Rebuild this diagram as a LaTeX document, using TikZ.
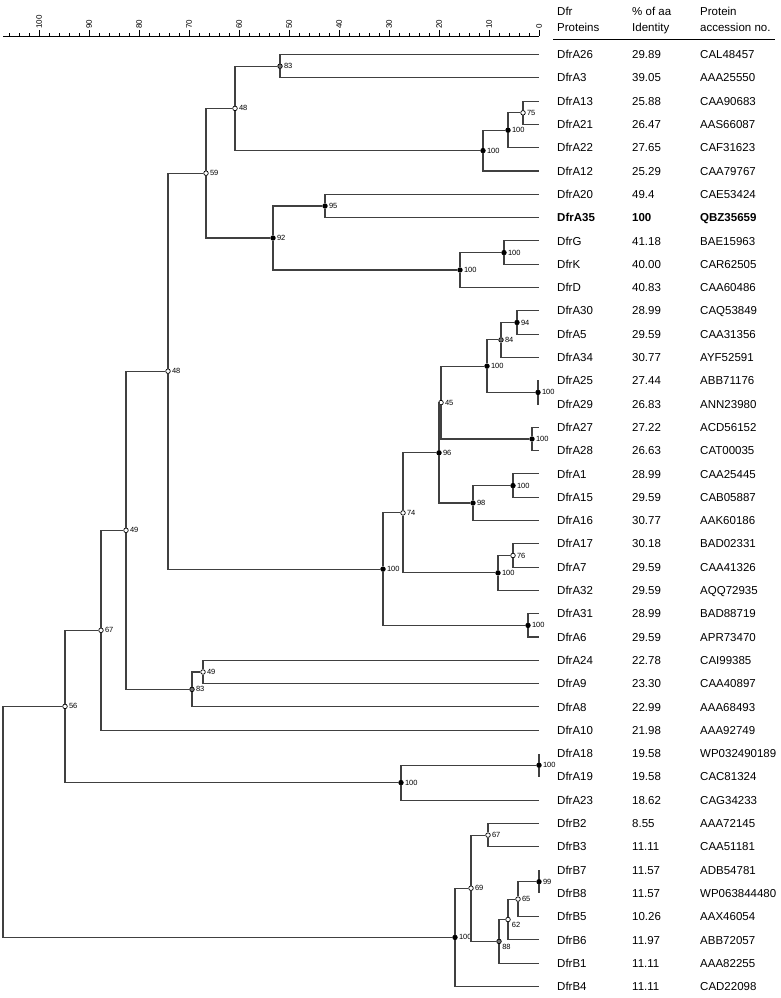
\documentclass[tikz,border=0pt]{standalone}
\usepackage{fontspec}
\setmainfont{Liberation Sans}
\tikzset{
  br/.style={line width=1.1pt, draw=black!75},
  nd/.style={circle, draw=black, line width=0.7pt, inner sep=0pt, minimum size=4.6pt, fill=white},
  ndf/.style={nd, fill=black},
  ndg/.style={nd, fill=black!55},
  bs/.style={font=\fontsize{7.5}{8}\selectfont, inner sep=1.2pt},
  cell/.style={anchor=base west, inner sep=0pt, font=\fontsize{11.5}{14}\selectfont},
}
\begin{document}
\begin{tikzpicture}[x=1pt,y=-1pt]
\useasboundingbox (0,0) rectangle (780,998);
% scale bar
\draw[line width=0.6pt] (3,36) -- (539,36);
\foreach \d in {0,2,...,106}
  \draw[line width=0.6pt] (539-5*\d,36) -- ++(0,-3);
\foreach \d in {0,10,...,100}
  \draw[line width=0.6pt] (539-5*\d,36) -- ++(0,-6)
    node[anchor=west, rotate=90, inner sep=1pt, font=\fontsize{8}{9}\selectfont] (t\d) {\d};
% table head
\node[cell] (h1) at (557,16) {Dfr};
\node[cell] (h2) at (557,32) {Proteins};
\node[cell] (h3) at (632,16) {\% of aa};
\node[cell] (h4) at (632,32) {Identity};
\node[cell] (h5) at (700,16) {Protein};
\node[cell] (h6) at (700,32) {accession no.};
\draw[line width=0.8pt] (553,39) -- (775,39);
% leaves and table rows
\foreach \i/\nm/\pc/\ac in {1/DfrA26/29.89/CAL48457, 2/DfrA3/39.05/AAA25550,
  3/DfrA13/25.88/CAA90683, 4/DfrA21/26.47/AAS66087, 5/DfrA22/27.65/CAF31623,
  6/DfrA12/25.29/CAA79767, 7/DfrA20/49.4/CAE53424,
  8/\textbf{DfrA35}/\textbf{100}/\textbf{QBZ35659}, 9/DfrG/41.18/BAE15963,
  10/DfrK/40.00/CAR62505, 11/DfrD/40.83/CAA60486, 12/DfrA30/28.99/CAQ53849,
  13/DfrA5/29.59/CAA31356, 14/DfrA34/30.77/AYF52591, 15/DfrA25/27.44/ABB71176,
  16/DfrA29/26.83/ANN23980, 17/DfrA27/27.22/ACD56152, 18/DfrA28/26.63/CAT00035,
  19/DfrA1/28.99/CAA25445, 20/DfrA15/29.59/CAB05887, 21/DfrA16/30.77/AAK60186,
  22/DfrA17/30.18/BAD02331, 23/DfrA7/29.59/CAA41326, 24/DfrA32/29.59/AQQ72935,
  25/DfrA31/28.99/BAD88719, 26/DfrA6/29.59/APR73470, 27/DfrA24/22.78/CAI99385,
  28/DfrA9/23.30/CAA40897, 29/DfrA8/22.99/AAA68493, 30/DfrA10/21.98/AAA92749,
  31/DfrA18/19.58/WP032490189, 32/DfrA19/19.58/CAC81324, 33/DfrA23/18.62/CAG34233,
  34/DfrB2/8.55/AAA72145, 35/DfrB3/11.11/CAA51181, 36/DfrB7/11.57/ADB54781,
  37/DfrB8/11.57/WP063844480, 38/DfrB5/10.26/AAX46054, 39/DfrB6/11.97/ABB72057,
  40/DfrB1/11.11/AAA82255, 41/DfrB4/11.11/CAD22098} {
  \coordinate (l\i) at (539,{54.5+23.3*(\i-1)});
  \node[cell] (nm\i) at (557,{58.6+23.3*(\i-1)}) {\nm};
  \node[cell] (pc\i) at (632,{58.6+23.3*(\i-1)}) {\pc};
  \node[cell] (ac\i) at (700,{58.6+23.3*(\i-1)}) {\ac};
}
% inner nodes
\node[ndg, label={[bs]right:83}] (n83a) at (280,66.2) {};
\node[nd, label={[bs]right:75}] (n75) at (523,112.8) {};
\node[ndf, label={[bs]right:100}] (n100b) at (508,130.2) {};
\node[ndf, label={[bs]right:100}] (n100c) at (483,150.6) {};
\node[nd, label={[bs]right:48}] (n48a) at (235,108.4) {};
\node[ndf, label={[bs]right:95}] (n95) at (325,206.0) {};
\node[ndf, label={[bs]right:100}] (n100g) at (504,252.6) {};
\node[ndf, label={[bs]right:100}] (n100d) at (460,270.0) {};
\node[ndf, label={[bs]right:92}] (n92) at (273,238.0) {};
\node[nd, label={[bs]right:59}] (n59) at (206,173.2) {};
\node[ndf, label={[bs]right:94}] (n94) at (517,322.5) {};
\node[ndg, label={[bs]right:84}] (n84) at (501,339.9) {};
\node[ndf, label={[bs]right:100}] (n100e) at (538,392.4) {};
\node[ndf, label={[bs]right:100}] (n100f) at (487,366.1) {};
\node[ndf, label={[bs]right:100}] (n100h) at (532,439.0) {};
\node[nd, label={[bs]right:45}] (n45) at (441,402.6) {};
\node[ndf, label={[bs]right:100}] (n100i) at (513,485.6) {};
\node[ndf, label={[bs]right:98}] (n98) at (473,503.0) {};
\node[ndf, label={[bs]right:96}] (n96) at (439,452.8) {};
\node[nd, label={[bs]right:76}] (n76) at (513,555.5) {};
\node[ndf, label={[bs]right:100}] (n100j) at (498,572.9) {};
\node[nd, label={[bs]right:74}] (n74) at (403,512.9) {};
\node[ndf, label={[bs]right:100}] (n100k) at (528,625.4) {};
\node[ndf, label={[bs]right:100}] (n100l) at (383,569.1) {};
\node[nd, label={[bs]right:48}] (n48b) at (168,371.2) {};
\node[nd, label={[bs]right:49}] (n49a) at (203,672.0) {};
\node[ndg, label={[bs]right:83}] (n83b) at (192,689.4) {};
\node[nd, label={[bs]right:49}] (n49b) at (126,530.3) {};
\node[nd, label={[bs]right:67}] (n67a) at (101,630.3) {};
\node[ndf, label={[bs]right:100}] (n100m) at (539,765.2) {};
\node[ndf, label={[bs]right:100}] (n100n) at (401,782.6) {};
\node[nd, label={[bs]right:56}] (n56) at (65,706.4) {};
\node[nd, label={[bs]right:67}] (n67b) at (488,835.1) {};
\node[ndf, label={[bs]right:99}] (n99) at (539,881.7) {};
\node[nd, label={[bs]right:65}] (n65) at (518,899.1) {};
\node[nd, label={[bs]-20:62}] (n62) at (508,919.5) {};
\node[ndg, label={[bs]-45:88}] (n88) at (499,941.4) {};
\node[nd, label={[bs]right:69}] (n69) at (471,888.2) {};
\node[ndf, label={[bs]right:100}] (n100o) at (455,937.4) {};
\coordinate (root) at (3,821.9);
% branches
\foreach \p/\c in {n83a/l1, n83a/l2, n75/l3, n75/l4, n100b/n75, n100b/l5,
  n100c/n100b, n100c/l6, n48a/n83a, n48a/n100c, n95/l7, n95/l8,
  n100g/l9, n100g/l10, n100d/n100g, n100d/l11, n92/n95, n92/n100d,
  n59/n48a, n59/n92, n94/l12, n94/l13, n84/n94, n84/l14, n100e/l15, n100e/l16,
  n100f/n84, n100f/n100e, n100h/l17, n100h/l18, n45/n100f, n45/n100h,
  n100i/l19, n100i/l20, n98/n100i, n98/l21, n96/n45, n96/n98,
  n76/l22, n76/l23, n100j/n76, n100j/l24, n74/n96, n74/n100j,
  n100k/l25, n100k/l26, n100l/n74, n100l/n100k, n48b/n59, n48b/n100l,
  n49a/l27, n49a/l28, n83b/n49a, n83b/l29, n49b/n48b, n49b/n83b,
  n67a/n49b, n67a/l30, n100m/l31, n100m/l32, n100n/n100m, n100n/l33,
  n56/n67a, n56/n100n, n67b/l34, n67b/l35, n99/l36, n99/l37, n65/n99, n65/l38,
  n62/n65, n62/l39, n88/n62, n88/l40, n69/n67b, n69/n88, n100o/n69, n100o/l41,
  root/n56, root/n100o}
  \draw[br] (\p) |- (\c);
\end{tikzpicture}
\end{document}
